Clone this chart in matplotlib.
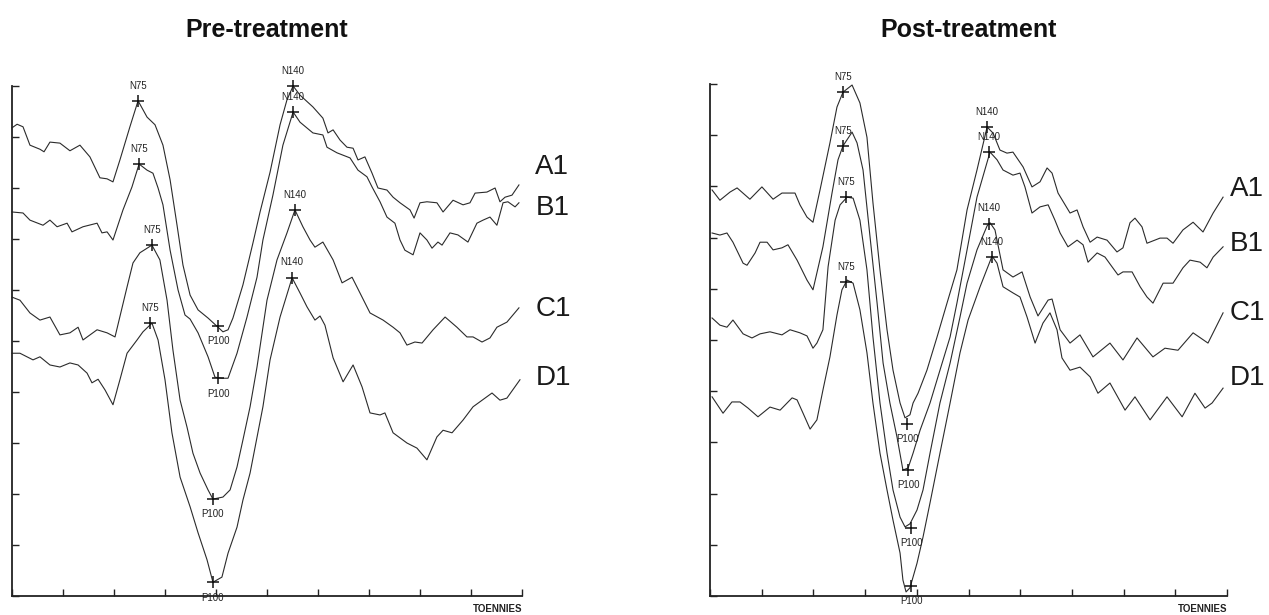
import matplotlib.pyplot as plt

plt.rcParams['font.family'] = ['Liberation Sans', 'DejaVu Sans']

# latency in ms, amplitude in axis-tick units (traces stacked A1..D1)
pre_a1_t = [0, 2.5, 5.4, 8.8, 13.7, 15.7, 18.6, 23.5, 28.4, 33.3, 38.2, 43.1, 46.6, 49.5, 52.9, 57.8,
            61.8, 66.2, 70.1, 74.0, 77.5, 80.9, 83.8, 87.3, 91.2, 96.1, 101.0, 103.4, 105.9, 108.3,
            113.2, 118.1, 121.6, 126.5, 131.4, 134.8, 137.8, 141.2, 147.5, 152.4, 154.9, 157.4, 160.8,
            164.2, 167.2, 169.6, 173.0, 176.5, 179.4, 183.8, 186.8, 190.2, 195.1, 197.1, 200.0, 203.4,
            208.3, 211.3, 216.2, 221.1, 224.5, 227.0, 232.8, 236.8, 239.2, 241.7, 245.1, 248.5]
pre_a1_v = [9.18, 9.25, 9.20, 8.84, 8.76, 8.71, 8.90, 8.88, 8.73, 8.84, 8.61, 8.20, 8.18, 8.12, 8.55, 9.20,
            9.71, 9.39, 9.24, 8.84, 8.16, 7.27, 6.49, 5.90, 5.61, 5.45, 5.27, 5.18, 5.22, 5.45,
            6.10, 6.92, 7.53, 8.31, 9.24, 9.73, 10.0, 9.82, 9.59, 9.37, 9.08, 9.14, 8.94,
            8.80, 8.78, 8.55, 8.61, 8.29, 8.00, 7.96, 7.82, 7.71, 7.57, 7.41, 7.71, 7.73,
            7.71, 7.53, 7.76, 7.67, 7.71, 7.90, 7.92, 8.00, 7.73, 7.82, 7.86, 8.06]

pre_b1_t = [0, 5.4, 8.8, 15.2, 18.6, 22.1, 27.0, 29.4, 34.8, 41.7, 44.1, 46.6, 49.5, 54.4, 58.8, 62.3,
            66.2, 69.1, 71.6, 74.0, 77.5, 81.4, 84.8, 87.3, 91.2, 96.1, 99.5, 102.9, 105.9, 110.3,
            115.2, 120.1, 123.0, 127.9, 132.8, 137.8, 141.2, 147.5, 152.4, 154.4, 159.3, 165.7, 169.6,
            174.0, 176.5, 180.4, 183.8, 187.7, 190.2, 192.6, 196.6, 200.0, 203.4, 205.9, 208.8, 210.8,
            214.7, 218.6, 223.5, 227.9, 230.9, 234.3, 237.7, 240.7, 243.1, 246.6, 248.5]
pre_b1_v = [7.53, 7.51, 7.37, 7.27, 7.37, 7.24, 7.31, 7.14, 7.24, 7.31, 7.12, 7.14, 6.98, 7.57, 8.02, 8.47,
            8.35, 8.29, 8.00, 7.67, 6.78, 6.00, 5.51, 5.43, 5.16, 4.69, 4.29, 4.27, 4.27, 4.76,
            5.47, 6.25, 6.98, 7.86, 8.84, 9.49, 9.29, 9.08, 9.04, 8.80, 8.69, 8.59, 8.35,
            8.22, 8.02, 7.73, 7.43, 7.31, 6.98, 6.78, 6.69, 7.12, 6.98, 6.82, 6.94, 6.88,
            7.12, 7.08, 6.94, 7.31, 7.37, 7.43, 7.27, 7.71, 7.73, 7.63, 7.71]

pre_c1_t = [0, 3.9, 8.8, 13.7, 18.6, 23.5, 28.4, 32.4, 34.8, 41.7, 46.6, 50.5, 56.4, 59.3, 62.7, 68.6,
            72.5, 76.0, 78.9, 82.4, 85.8, 88.7, 92.2, 96.1, 98.5, 103.4, 106.9, 110.3, 113.2, 116.7,
            120.1, 125.0, 129.9, 134.8, 138.7, 142.6, 146.1, 148.5, 152.4, 157.4, 161.8, 166.7, 170.6,
            175.5, 181.9, 186.8, 190.2, 193.6, 197.5, 201.0, 206.4, 212.3, 218.1, 223.0, 226.0, 230.4,
            234.3, 237.7, 242.6, 248.5]
pre_c1_v = [5.86, 5.80, 5.55, 5.41, 5.47, 5.12, 5.16, 5.27, 5.02, 5.22, 5.16, 5.08, 6.06, 6.53, 6.73, 6.88,
            6.59, 5.80, 4.82, 3.84, 3.31, 2.80, 2.41, 2.08, 1.90, 1.94, 2.08, 2.53, 3.06, 3.71,
            4.49, 5.80, 6.59, 7.12, 7.57, 7.24, 6.98, 6.84, 6.94, 6.59, 6.14, 6.25, 5.94,
            5.55, 5.41, 5.27, 5.16, 4.92, 4.98, 4.96, 5.22, 5.47, 5.27, 5.08, 5.08, 4.98,
            5.06, 5.27, 5.37, 5.65]

pre_d1_t = [0, 3.9, 10.3, 13.7, 18.6, 23.5, 28.4, 32.4, 36.8, 39.2, 42.2, 45.6, 49.5, 52.9, 56.4, 61.3,
            64.2, 68.6, 71.6, 75.0, 78.4, 82.4, 87.3, 91.2, 95.6, 98.5, 102.9, 105.9, 110.3, 113.2,
            116.7, 123.0, 126.5, 131.4, 137.3, 141.2, 144.6, 148.5, 151.0, 153.4, 157.4, 162.3, 167.2,
            171.6, 175.5, 180.4, 182.8, 186.8, 193.6, 198.5, 203.4, 208.3, 211.3, 215.7, 221.1, 226.0,
            235.3, 239.2, 242.6, 249.0]
pre_d1_v = [4.76, 4.76, 4.63, 4.69, 4.53, 4.49, 4.57, 4.53, 4.37, 4.18, 4.25, 4.04, 3.75, 4.24, 4.76, 5.02,
            5.18, 5.35, 5.02, 4.24, 3.20, 2.33, 1.75, 1.24, 0.71, 0.27, 0.37, 0.84, 1.35, 1.88,
            2.41, 3.71, 4.63, 5.47, 6.24, 5.94, 5.67, 5.41, 5.49, 5.31, 4.67, 4.20, 4.53,
            4.10, 3.59, 3.55, 3.59, 3.20, 3.00, 2.90, 2.67, 3.12, 3.25, 3.20, 3.45, 3.71,
            3.98, 3.84, 3.88, 4.24]

post_a1_t = [1.0, 4.8, 9.7, 13.1, 19.3, 25.1, 30.5, 34.8, 41.1, 43.5, 46.9, 49.8, 53.2, 58.0, 61.4, 64.3,
             68.7, 72.5, 75.9, 78.8, 82.2, 85.6, 88.5, 91.9, 94.3, 96.7, 98.2, 100.6, 104.9, 109.8,
             114.6, 119.4, 124.3, 129.1, 134.0, 136.9, 140.2, 143.6, 146.5, 151.4, 155.7, 159.6, 163.0,
             165.4, 168.3, 174.1, 177.5, 180.4, 183.8, 187.2, 192.0, 196.8, 199.7, 203.1, 205.5, 208.9,
             211.3, 217.6, 221.0, 223.9, 228.7, 233.6, 238.4, 243.3, 248.1]
post_a1_v = [7.93, 7.73, 7.89, 7.97, 7.75, 7.99, 7.75, 7.87, 7.87, 7.64, 7.40, 7.30, 7.93, 8.85, 9.55, 9.84,
             9.98, 9.63, 8.96, 7.68, 6.37, 5.20, 4.41, 3.77, 3.48, 3.54, 3.77, 3.96, 4.41, 5.06,
             5.72, 6.37, 7.54, 8.32, 9.16, 9.04, 8.71, 8.65, 8.67, 8.38, 7.99, 8.09, 8.36,
             8.26, 7.87, 7.48, 7.54, 7.21, 6.91, 7.01, 6.95, 6.72, 6.80, 7.29, 7.38, 7.21,
             6.89, 6.99, 6.99, 6.89, 7.15, 7.30, 7.11, 7.48, 7.79]

post_b1_t = [1.0, 4.8, 8.2, 11.1, 16.0, 17.9, 21.8, 24.2, 27.6, 30.5, 34.8, 37.7, 42.1, 46.9, 49.8, 54.6,
             59.0, 61.9, 64.3, 68.7, 71.1, 74.0, 77.4, 80.8, 83.7, 87.0, 90.4, 93.3, 95.8, 98.2,
             101.6, 106.4, 111.2, 116.1, 119.4, 124.3, 129.1, 135.4, 138.8, 141.7, 146.5, 149.9, 152.3,
             155.7, 159.6, 163.5, 166.8, 169.3, 173.1, 177.5, 180.4, 182.8, 187.2, 191.0, 194.4, 197.3,
             199.7, 204.1, 208.0, 211.3, 214.2, 219.1, 223.9, 228.7, 232.1, 237.0, 240.3, 243.3, 248.1]
post_b1_v = [7.09, 7.05, 7.09, 6.91, 6.50, 6.46, 6.70, 6.91, 6.91, 6.76, 6.80, 6.86, 6.56, 6.17, 5.98, 6.82,
             7.87, 8.52, 8.79, 9.06, 8.85, 8.32, 7.01, 5.72, 4.55, 3.77, 3.11, 2.46, 2.50, 2.79,
             3.24, 3.77, 4.41, 5.06, 5.72, 6.76, 7.79, 8.67, 8.52, 8.32, 8.22, 8.26, 7.99,
             7.48, 7.60, 7.64, 7.34, 7.09, 6.82, 6.95, 6.86, 6.52, 6.70, 6.62, 6.43, 6.27,
             6.33, 6.33, 6.04, 5.84, 5.72, 6.11, 6.11, 6.41, 6.56, 6.52, 6.41, 6.62, 6.82]

post_c1_t = [1.0, 4.8, 8.2, 11.1, 16.0, 20.3, 24.2, 29.0, 34.8, 38.7, 43.5, 46.9, 49.8, 51.7, 54.6, 57.1,
             60.5, 62.9, 66.3, 69.2, 72.5, 75.9, 78.8, 82.2, 85.6, 88.5, 91.9, 94.3, 96.7, 100.1,
             103.0, 106.4, 111.2, 116.1, 120.9, 124.3, 129.1, 134.0, 135.4, 137.8, 141.7, 146.5, 150.9,
             154.8, 158.6, 163.5, 165.4, 169.3, 174.1, 178.9, 185.2, 193.4, 199.7, 206.5, 214.2, 220.0,
             226.3, 233.6, 240.8, 248.1]
post_c1_v = [5.43, 5.29, 5.25, 5.39, 5.12, 5.04, 5.12, 5.16, 5.10, 5.20, 5.14, 5.08, 4.84, 4.94, 5.20, 6.43,
             7.34, 7.64, 7.79, 7.77, 7.34, 6.37, 5.06, 3.77, 2.79, 2.07, 1.54, 1.35, 1.41, 1.68,
             2.07, 2.79, 3.77, 4.55, 5.45, 6.11, 6.76, 7.23, 7.29, 7.15, 6.37, 6.23, 6.33,
             5.84, 5.47, 5.78, 5.80, 5.20, 4.94, 5.10, 4.67, 4.94, 4.61, 5.04, 4.67, 4.84,
             4.80, 5.14, 4.94, 5.53]

post_d1_t = [1.0, 6.3, 10.6, 14.5, 18.4, 23.2, 29.0, 33.9, 39.7, 42.1, 45.0, 48.4, 51.7, 54.6, 58.0, 61.4,
             63.8, 66.3, 69.2, 72.5, 75.9, 78.8, 82.2, 85.6, 88.5, 91.9, 93.3, 94.8, 96.7, 100.1,
             103.0, 106.4, 111.2, 116.1, 120.9, 124.8, 130.6, 136.4, 138.8, 141.7, 146.5, 149.9, 153.3,
             157.2, 161.0, 164.4, 167.8, 170.2, 174.1, 178.9, 183.8, 187.6, 193.4, 200.7, 205.5, 212.8,
             221.0, 228.3, 234.5, 239.4, 242.8, 248.1]
post_d1_v = [3.89, 3.57, 3.79, 3.79, 3.67, 3.50, 3.69, 3.63, 3.87, 3.83, 3.57, 3.26, 3.44, 4.02, 4.67, 5.49,
             5.98, 6.17, 6.11, 5.59, 4.75, 3.77, 2.79, 2.07, 1.48, 0.84, 0.31, 0.08, 0.16, 0.64,
             1.15, 1.82, 2.79, 3.77, 4.75, 5.39, 6.04, 6.64, 6.50, 6.04, 5.92, 5.84, 5.45,
             4.94, 5.33, 5.53, 5.20, 4.65, 4.41, 4.47, 4.28, 3.96, 4.16, 3.63, 3.89, 3.44,
             3.89, 3.50, 3.96, 3.67, 3.77, 4.06]

# picked peaks per trace (A1, B1, C1, D1)
pre_n75_t = [61.8, 62.3, 68.6, 67.6]
pre_n75_v = [9.71, 8.47, 6.88, 5.35]
pre_p100_t = [101.0, 101.0, 98.5, 98.5]
pre_p100_v = [5.29, 4.27, 1.90, 0.27]
pre_n140_t = [137.8, 137.8, 138.7, 137.3]
pre_n140_v = [10.0, 9.49, 7.57, 6.24]

post_n75_t = [64.3, 64.3, 65.8, 65.8]
post_n75_v = [9.84, 8.79, 7.79, 6.13]
post_p100_t = [95.3, 95.8, 97.2, 97.2]
post_p100_v = [3.36, 2.46, 1.33, 0.20]
post_n140_t = [134.0, 134.9, 134.9, 136.4]
post_n140_v = [9.16, 8.67, 7.27, 6.62]

trace_names = ['A1', 'B1', 'C1', 'D1']
x_ticks = [0, 25, 50, 75, 100, 125, 150, 175, 200, 225, 250]
y_ticks = [0, 1, 2, 3, 4, 5, 6, 7, 8, 9, 10]

fig = plt.figure(figsize=(12.69, 6.15), dpi=100)
ax1 = fig.add_axes([12 / 1269, 19 / 615, 510 / 1269, 510 / 615])
ax2 = fig.add_axes([710 / 1269, 19 / 615, 517 / 1269, 512 / 615])

panels = [
    (ax1, 'Pre-treatment',
     [(pre_a1_t, pre_a1_v), (pre_b1_t, pre_b1_v), (pre_c1_t, pre_c1_v), (pre_d1_t, pre_d1_v)],
     (pre_n75_t, pre_n75_v), (pre_p100_t, pre_p100_v), (pre_n140_t, pre_n140_v),
     256.5, [8.41, 7.61, 5.63, 4.27]),
    (ax2, 'Post-treatment',
     [(post_a1_t, post_a1_v), (post_b1_t, post_b1_v), (post_c1_t, post_c1_v), (post_d1_t, post_d1_v)],
     (post_n75_t, post_n75_v), (post_p100_t, post_p100_v), (post_n140_t, post_n140_v),
     251.5, [7.95, 6.88, 5.53, 4.26]),
]

line_col = '#2b2b2b'
for ax, title, traces, n75, p100, n140, lab_x, lab_y in panels:
    for t, v in traces:
        ax.plot(t, v, color=line_col, lw=0.8, clip_on=False, solid_joinstyle='round')

    for (pt, pv), name, dy in [(n75, 'N75', 11), (p100, 'P100', -11), (n140, 'N140', 11)]:
        ax.plot(pt, pv, '+', color='#111111', ms=9, mew=1.1, clip_on=False)
        for x, y in zip(pt, pv):
            ax.annotate(name, (x, y), xytext=(0, dy), textcoords='offset points',
                        ha='center', va='center', fontsize=7, color='#222222')

    for name, y in zip(trace_names, lab_y):
        ax.text(lab_x, y, name, fontsize=20, va='center', ha='left', color='#1a1a1a', clip_on=False)

    ax.set_xlim(0, 250)
    ax.set_ylim(0, 10)
    ax.set_xticks(x_ticks)
    ax.set_yticks(y_ticks)
    ax.set_xticklabels([])
    ax.set_yticklabels([])
    ax.tick_params(direction='in', length=5, width=1.0, color='#222222')
    for side in ['top', 'right']:
        ax.spines[side].set_visible(False)
    for side in ['left', 'bottom']:
        ax.spines[side].set_linewidth(1.3)
        ax.spines[side].set_color('#222222')
    ax.patch.set_alpha(0)

    ax.text(250, -0.15, 'TOENNIES', fontsize=7, fontweight='bold', ha='right', va='top', color='#222222')
    pos = ax.get_position()
    fig.text((pos.x0 + pos.x1) / 2, 1 - 30 / 615, title, fontsize=18, fontweight='bold',
             ha='center', va='center', color='#111111')

fig.savefig('out.png', dpi=100)
